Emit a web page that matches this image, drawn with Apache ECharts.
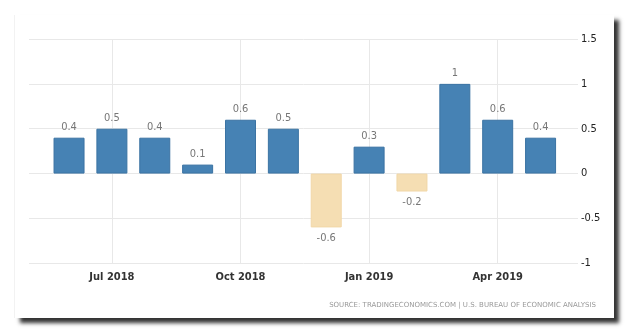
<!DOCTYPE html>
<html><head><meta charset="utf-8">
<script src="https://cdn.jsdelivr.net/npm/echarts@6/dist/echarts.min.js"></script>
<style>html,body{margin:0;padding:0;background:#fff}#c{width:630px;height:334px}</style>
</head><body><div id="c"></div>
<script>
const categories = ['Jun 2018','Jul 2018','Aug 2018','Sep 2018','Oct 2018','Nov 2018','Dec 2018','Jan 2019','Feb 2019','Mar 2019','Apr 2019','May 2019'];
const values = [0.4, 0.5, 0.4, 0.1, 0.6, 0.5, -0.6, 0.3, -0.2, 1, 0.6, 0.4];
const tickLabels = ['Jul 2018','Oct 2018','Jan 2019','Apr 2019'];
const yTicks = {min: -1, max: 1.5, interval: 0.5};
const sourceText = 'SOURCE: TRADINGECONOMICS.COM | U.S. BUREAU OF ECONOMIC ANALYSIS';

const chart = echarts.init(document.getElementById('c'), null, {renderer: 'canvas'});
const gridTop = 39, gridBottom = 334 - 263.3;
chart.setOption({
  animation: false,
  backgroundColor: '#fff',
  graphic: [
    {type: 'rect', z: -10, silent: true, shape: {x: 15, y: 15, width: 599, height: 303},
     style: {fill: '#fff', shadowBlur: 4, shadowOffsetX: 5, shadowOffsetY: 5, shadowColor: 'rgba(0,0,0,0.8)'}},
    {type: 'line', z: -9, silent: true, shape: {x1: 14.5, y1: 15, x2: 14.5, y2: 318},
     style: {stroke: '#f2f2f2', lineWidth: 1}},
    {type: 'text', right: 34, top: 302, silent: true,
     style: {text: sourceText, fill: '#999', font: '7px "DejaVu Sans"'}}
  ],
  grid: [
    {left: 29, right: 52, top: gridTop, bottom: gridBottom},
    {left: 47.6, right: 68, top: gridTop, bottom: gridBottom}
  ],
  xAxis: [
    {type: 'value', gridIndex: 0, show: false, min: 0, max: 1},
    {type: 'category', gridIndex: 1, data: categories,
     axisLine: {show: false}, axisTick: {show: false}, splitLine: {show: false},
     axisLabel: {interval: (i, v) => tickLabels.indexOf(v) >= 0, color: '#333', fontWeight: 'bold',
       fontFamily: 'DejaVu Sans Condensed', fontSize: 11, margin: 8}}
  ],
  yAxis: [
    {type: 'value', gridIndex: 0, position: 'right', min: yTicks.min, max: yTicks.max, interval: yTicks.interval,
     axisLine: {show: false}, axisTick: {show: false},
     axisLabel: {color: '#222', fontFamily: 'DejaVu Sans Condensed', fontSize: 11, margin: 3, align: 'left'},
     splitLine: {lineStyle: {color: '#e8e8e8', width: 1}}},
    {type: 'value', gridIndex: 1, show: false, min: yTicks.min, max: yTicks.max, interval: yTicks.interval, splitLine: {show: false}}
  ],
  series: [{
    type: 'bar', xAxisIndex: 1, yAxisIndex: 1, barWidth: 31,
    data: values.map(v => ({
      value: v,
      itemStyle: v >= 0 ? {color: '#4682b4', borderColor: '#3b73a3', borderWidth: 1}
                        : {color: '#f5deb3', borderColor: '#f1d7a8', borderWidth: 1},
      label: {position: v >= 0 ? 'top' : 'bottom'}
    })),
    label: {show: true, color: '#777', fontFamily: 'DejaVu Sans Condensed', fontSize: 11, distance: 5,
      formatter: p => String(p.value)},
    markLine: {silent: true, symbol: 'none', label: {show: false}, z: 0,
      lineStyle: {color: '#e8e8e8', type: 'solid', width: 1},
      data: tickLabels.map(t => ({xAxis: t}))}
  }]
});
</script></body></html>
